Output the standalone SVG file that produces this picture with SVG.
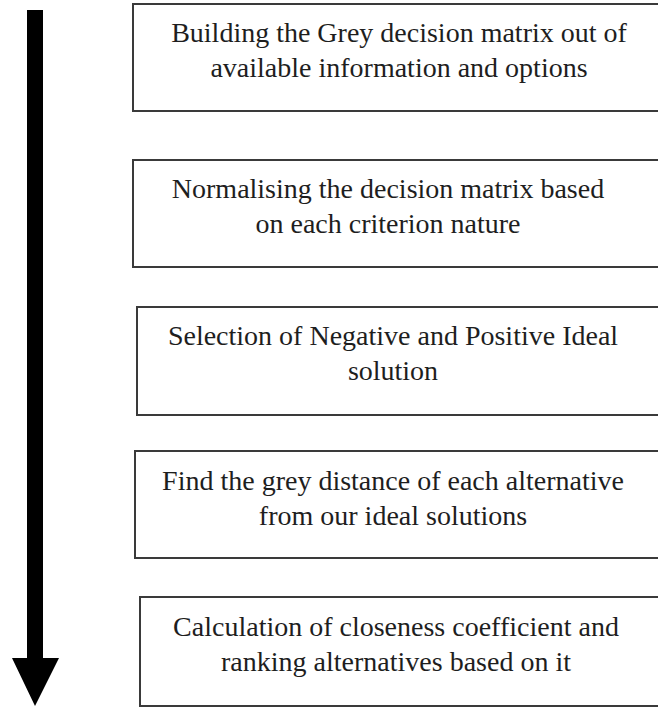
<svg xmlns="http://www.w3.org/2000/svg" width="658" height="709" viewBox="0 0 658 709">
<style>
.box{fill:#fff;stroke:#3a3a3a;stroke-width:2}
.t{font-family:"Liberation Serif","Times New Roman",serif;font-size:28px;fill:#1e1e1e;text-anchor:middle}
</style>
<rect width="658" height="709" fill="#fff"/>
<g id="connectors">
<polygon points="27,10 43,10 43,658 59,658 35,706 12,658 27,658" fill="#000"/>
</g>
<g id="step1">
<rect class="box" x="133" y="4" width="540" height="107"/>
<text class="t" x="399" y="42">Building the Grey decision matrix out of</text>
<text class="t" x="399" y="77">available information and options</text>
</g>
<g id="step2">
<rect class="box" x="133" y="160" width="540" height="107"/>
<text class="t" x="388" y="198">Normalising the decision matrix based</text>
<text class="t" x="388" y="233">on each criterion nature</text>
</g>
<g id="step3">
<rect class="box" x="137" y="307" width="540" height="108"/>
<text class="t" x="393" y="345">Selection of Negative and Positive Ideal</text>
<text class="t" x="393" y="380">solution</text>
</g>
<g id="step4">
<rect class="box" x="135" y="451" width="540" height="107"/>
<text class="t" x="393" y="490">Find the grey distance of each alternative</text>
<text class="t" x="393" y="525">from our ideal solutions</text>
</g>
<g id="step5">
<rect class="box" x="140" y="597" width="540" height="109"/>
<text class="t" x="396" y="636">Calculation of closeness coefficient and</text>
<text class="t" x="396" y="671">ranking alternatives based on it</text>
</g>
</svg>
